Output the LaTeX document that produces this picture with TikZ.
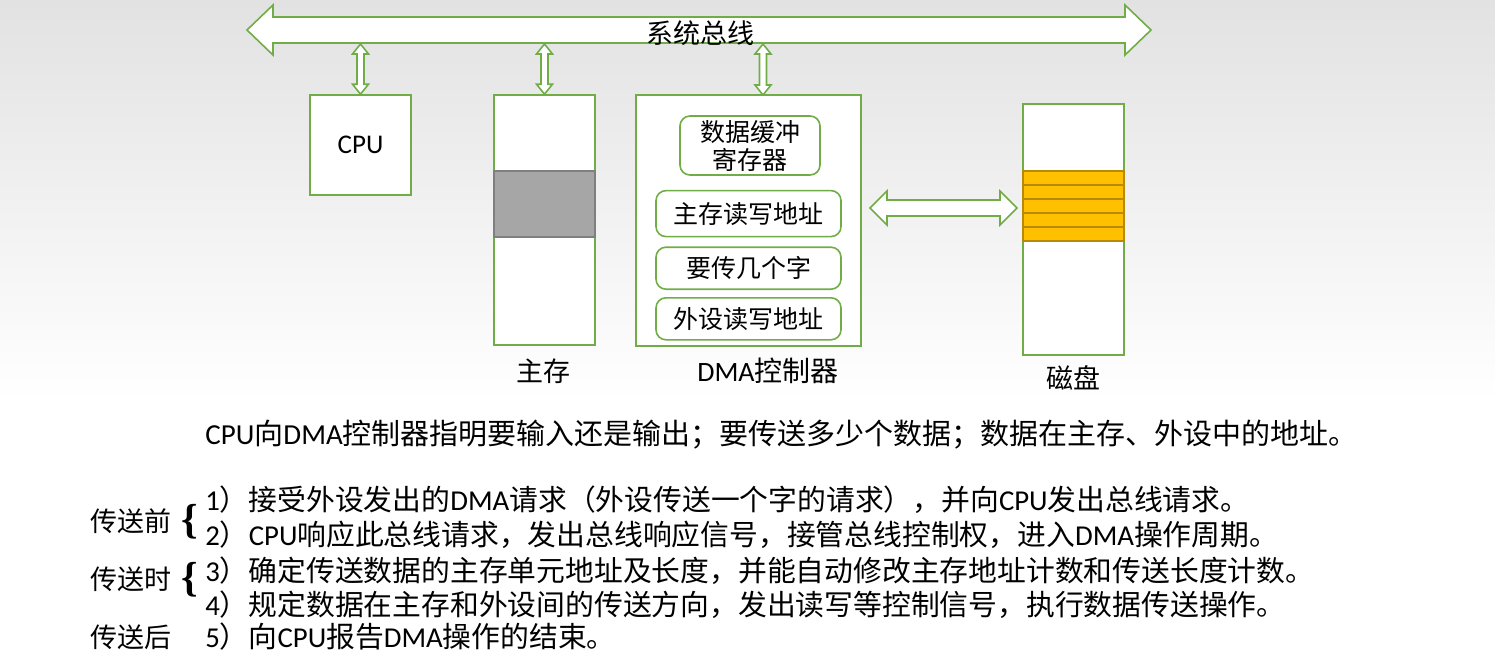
\documentclass[tikz,border=0pt]{standalone}
\usepackage{fontspec}
\setmainfont{Noto Sans CJK SC}
\newfontfamily\lat{Carlito}
\newfontfamily\bracefont{Liberation Serif}
\usetikzlibrary{positioning,calc}
\definecolor{BusGreen}{RGB}{112,173,71}
\definecolor{BandGray}{RGB}{166,166,166}
\definecolor{BandEdge}{RGB}{127,127,127}
\definecolor{TrackGold}{RGB}{255,192,0}
\definecolor{TrackEdge}{RGB}{184,138,0}
\definecolor{BgTop}{RGB}{226,226,226}

% hollow two-headed arrows: #1/#2 tips, #3 shaft half, #4 head half, #5 head length
\newcommand{\hbiarrow}[5]{%
  \path[biarrow] let \p1=(#1), \p2=(#2) in
    (\x1,\y1) -- (\x1+#5,\y1+#4) -- (\x1+#5,\y1+#3) -- (\x2-#5,\y1+#3)
    -- (\x2-#5,\y1+#4) -- (\x2,\y1) -- (\x2-#5,\y1-#4) -- (\x2-#5,\y1-#3)
    -- (\x1+#5,\y1-#3) -- (\x1+#5,\y1-#4) -- cycle;}
\newcommand{\vbiarrow}[5]{%
  \path[biarrow] let \p1=(#1), \p2=(#2) in
    (\x1,\y1) -- (\x1+#4,\y1-#5) -- (\x1+#3,\y1-#5) -- (\x1+#3,\y2+#5)
    -- (\x1+#4,\y2+#5) -- (\x1,\y2) -- (\x1-#4,\y2+#5) -- (\x1-#3,\y2+#5)
    -- (\x1-#3,\y1-#5) -- (\x1-#4,\y1-#5) -- cycle;}

\begin{document}
\begin{tikzpicture}[
  x=0.5pt, y=-0.5pt,
  biarrow/.style={draw=BusGreen, fill=white, line width=0.8pt, line join=miter},
  unit/.style={
    rectangle, draw=BusGreen, fill=white, line width=0.8pt,
    minimum width=50.5pt, inner sep=0pt
  },
  reg/.style={
    rectangle, rounded corners=5pt, draw=BusGreen, fill=white, line width=0.8pt,
    minimum width=92.5pt, inner sep=0pt, align=center,
    font=\fontsize{12.5pt}{14pt}\selectfont
  },
  track/.style={
    rectangle, draw=TrackEdge, fill=TrackGold, line width=0.7pt,
    minimum width=50.5pt, minimum height=7pt, inner sep=0pt
  },
  lbl/.style={inner sep=0pt, font=\fontsize{13.5pt}{15pt}\selectfont},
  line/.style={inner sep=0pt, anchor=west, font=\fontsize{14.4pt}{16pt}\selectfont},
  brace/.style={inner sep=0pt, font=\bracefont\bfseries\fontsize{21pt}{21pt}\selectfont}
]

%% Background
\useasboundingbox (0,0) rectangle (1495,653);
\fill[top color=BgTop, bottom color=white] (0,0) rectangle (1495,400);
\fill[white] (0,400) rectangle (1495,653);

%% System bus
\coordinate (busL) at (247,30);
\coordinate (busR) at (1151,30);
\coordinate (busB) at (700,44);
\hbiarrow{busL}{busR}{6.5pt}{12.5pt}{13pt}
\node[lbl] (bus) at (700,33) {系统总线};

%% Units
\node[unit, minimum height=50pt, font=\lat\fontsize{13.5pt}{15pt}\selectfont]
  (cpu) at (360.5,145) {CPU};
\node[unit, minimum height=125pt] (mem) at (544.5,220) {};
\node[rectangle, draw=BandEdge, fill=BandGray, line width=0.6pt,
  minimum width=50.5pt, minimum height=33pt, inner sep=0pt] (memblk) at (544.5,204) {};
\node[unit, minimum width=112.5pt, minimum height=125.5pt] (dma) at (748.5,220.5) {};
\node[unit, minimum height=125.5pt] (disk) at (1073.5,229.5) {};

%% Registers in the DMA controller
\node[reg, minimum width=70pt, minimum height=29.5pt] (buf) at (750,145.5) {数据缓冲\\寄存器};
\node[reg, minimum height=23pt, below=7pt of buf, xshift=-0.75pt] (maddr) {主存读写地址};
\node[reg, minimum height=21pt, below=4.5pt of maddr] (cnt) {要传几个字};
\node[reg, minimum height=21pt, below=3.5pt of cnt] (paddr) {外设读写地址};

%% Disk tracks
\foreach \i in {0,...,4}
  \node[track] (trk\i) at (1073.5,{178+14*\i}) {};

%% Labels
\node[lbl] (memlbl) at (543,371) {主存};
\node[lbl, font=\fontsize{14pt}{15pt}\selectfont] (dmalbl) at (768,371) {{\lat DMA}控制器};
\node[lbl] (disklbl) at (1073,378) {磁盘};

%% Bus links
\coordinate (dmaport) at (763,95);
\vbiarrow{busB -| cpu.north}{cpu.north}{1.75pt}{4pt}{5pt}
\vbiarrow{busB -| mem.north}{mem.north}{1.75pt}{4pt}{5pt}
\vbiarrow{busB -| dmaport}{dmaport}{1.75pt}{4pt}{5pt}

%% DMA <-> disk
\coordinate (lnkL) at (870,208);
\coordinate (lnkR) at (1017,208);
\hbiarrow{lnkL}{lnkR}{4pt}{8.5pt}{8.5pt}

%% Notes
\node[line, font=\fontsize{14.5pt}{16pt}\selectfont] (note) at (205,435)
  {{\lat CPU}向{\lat DMA}控制器指明要输入还是输出；要传送多少个数据；数据在主存、外设中的地址。};
\node[line] (s1) at (205,500) {{\lat 1}）接受外设发出的{\lat DMA}请求（外设传送一个字的请求），并向{\lat CPU}发出总线请求。};
\node[line] (s2) at (205,535) {{\lat 2}）{\lat CPU}响应此总线请求，发出总线响应信号，接管总线控制权，进入{\lat DMA}操作周期。};
\node[line] (s3) at (205,571) {{\lat 3}）确定传送数据的主存单元地址及长度，并能自动修改主存地址计数和传送长度计数。};
\node[line] (s4) at (205,605) {{\lat 4}）规定数据在主存和外设间的传送方向，发出读写等控制信号，执行数据传送操作。};
\node[line] (s5) at (205,637) {{\lat 5}）向{\lat CPU}报告{\lat DMA}操作的结束。};

\node[lbl, anchor=west] (pre) at (90,521) {传送前};
\node[lbl, anchor=west] (mid) at (90,579) {传送时};
\node[lbl, anchor=west] (post) at (90,637) {传送后};
\node[brace] (br1) at (190,522) {\{};
\node[brace] (br2) at (190,580) {\{};

\end{tikzpicture}
\end{document}
